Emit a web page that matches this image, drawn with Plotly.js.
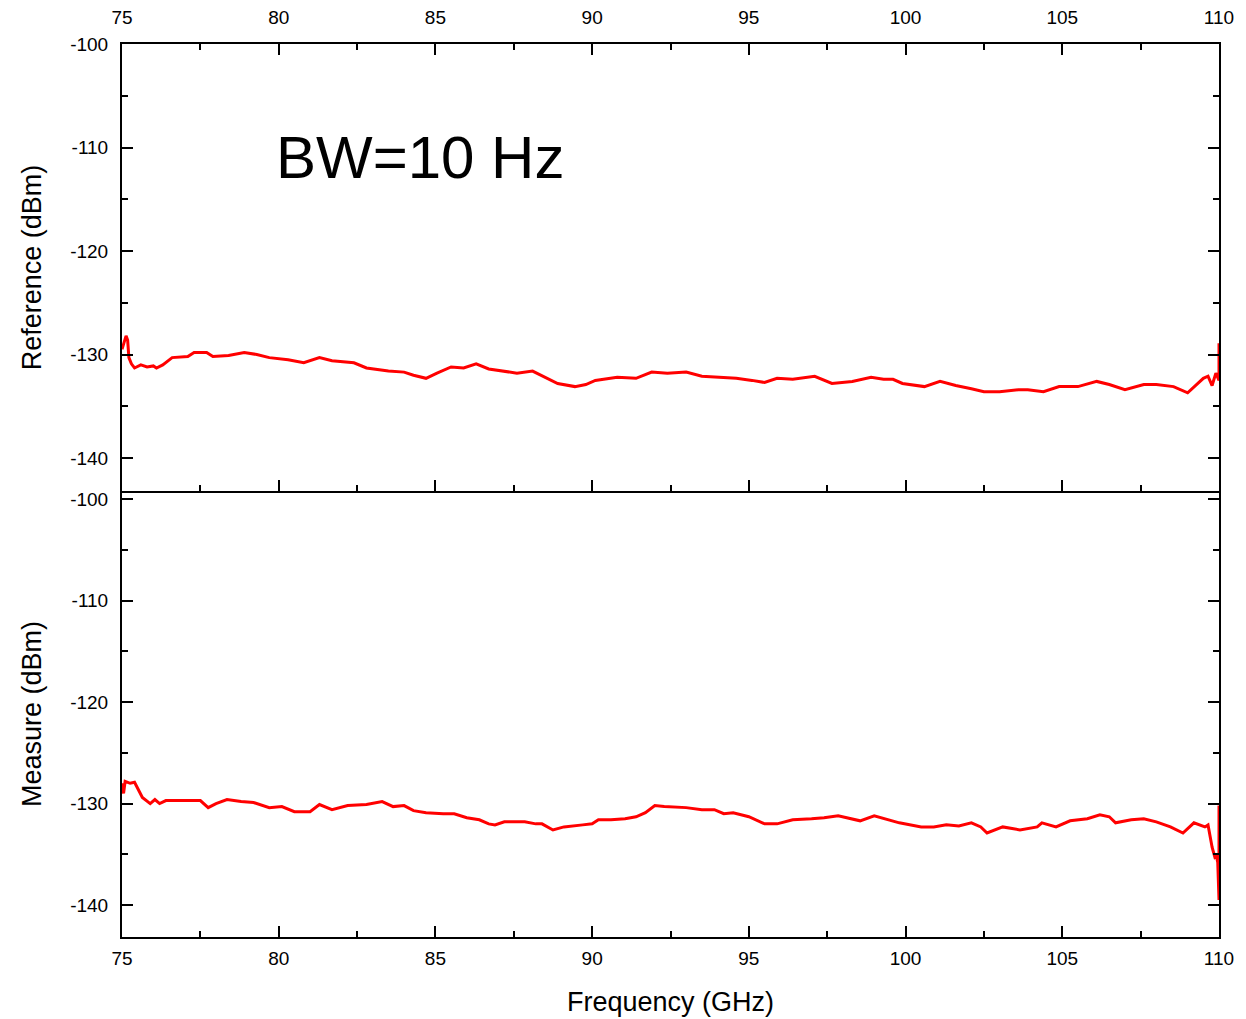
<!DOCTYPE html>
<html>
<head>
<meta charset="utf-8">
<script src="https://cdn.plot.ly/plotly-3.0.1.min.js"></script>
<style>html,body{margin:0;padding:0;background:#fff;}#chart{width:1246px;height:1019px;}</style>
</head>
<body>
<div id="chart"></div>
<script>
// Reference trace (top panel)
const refFreq = [75.0, 75.06, 75.13, 75.18, 75.22, 75.3, 75.4, 75.6, 75.8, 76.0, 76.1, 76.3, 76.6, 77.1, 77.3, 77.7, 77.9, 78.4, 78.9, 79.3, 79.7, 80.3, 80.8, 81.3, 81.7, 82.4, 82.8, 83.5, 84.0, 84.3, 84.7, 85.05, 85.5, 85.9, 86.3, 86.7, 87.1, 87.6, 88.1, 88.5, 88.9, 89.45, 89.8, 90.1, 90.8, 91.4, 91.9, 92.4, 93.0, 93.5, 94.0, 94.6, 95.1, 95.5, 95.9, 96.4, 97.1, 97.65, 98.3, 98.9, 99.3, 99.6, 99.9, 100.6, 101.1, 101.6, 102.1, 102.5, 103.0, 103.6, 103.9, 104.4, 104.9, 105.5, 106.1, 106.5, 107.0, 107.6, 108.0, 108.55, 109.0, 109.2, 109.5, 109.65, 109.78, 109.9, 109.97, 110.0, 110.0];
const refDbm = [-129.5, -128.9, -128.2, -128.6, -130.3, -130.9, -131.3, -131.0, -131.2, -131.1, -131.3, -131.0, -130.3, -130.2, -129.8, -129.8, -130.2, -130.1, -129.8, -130.0, -130.3, -130.5, -130.8, -130.3, -130.6, -130.8, -131.3, -131.6, -131.7, -132.0, -132.3, -131.8, -131.2, -131.3, -130.9, -131.4, -131.6, -131.8, -131.6, -132.2, -132.8, -133.1, -132.9, -132.5, -132.2, -132.3, -131.7, -131.8, -131.7, -132.1, -132.2, -132.3, -132.5, -132.7, -132.3, -132.4, -132.1, -132.8, -132.6, -132.2, -132.4, -132.4, -132.8, -133.1, -132.6, -133.0, -133.3, -133.6, -133.6, -133.4, -133.4, -133.6, -133.1, -133.1, -132.6, -132.9, -133.4, -132.9, -132.9, -133.1, -133.7, -133.1, -132.3, -132.1, -133.0, -131.8, -132.3, -132.5, -128.9];

// Measure trace (bottom panel)
const measFreq = [75.0, 75.05, 75.1, 75.26, 75.4, 75.5, 75.65, 75.9, 76.05, 76.2, 76.4, 77.1, 77.5, 77.75, 78.0, 78.35, 78.8, 79.2, 79.7, 80.1, 80.5, 81.0, 81.3, 81.7, 82.2, 82.8, 83.3, 83.65, 84.0, 84.3, 84.7, 85.25, 85.6, 86.0, 86.4, 86.7, 86.9, 87.2, 87.85, 88.2, 88.4, 88.75, 89.1, 89.7, 90.0, 90.2, 90.6, 91.05, 91.4, 91.7, 92.0, 92.3, 93.0, 93.5, 93.9, 94.2, 94.5, 95.0, 95.5, 95.9, 96.4, 97.0, 97.4, 97.85, 98.3, 98.55, 99.0, 99.5, 99.8, 100.5, 100.9, 101.3, 101.7, 102.1, 102.4, 102.6, 103.1, 103.65, 104.2, 104.35, 104.8, 105.25, 105.8, 106.2, 106.5, 106.7, 107.2, 107.6, 108.0, 108.45, 108.85, 109.2, 109.55, 109.65, 109.78, 109.87, 109.92, 109.96, 110.0, 110.0];
const measDbm = [-128.0, -129.0, -127.8, -128.0, -127.9, -128.5, -129.4, -130.0, -129.6, -130.0, -129.7, -129.7, -129.7, -130.4, -130.0, -129.6, -129.8, -129.9, -130.4, -130.3, -130.8, -130.8, -130.1, -130.6, -130.2, -130.1, -129.8, -130.3, -130.2, -130.7, -130.9, -131.0, -131.0, -131.4, -131.6, -132.0, -132.1, -131.8, -131.8, -132.0, -132.0, -132.6, -132.3, -132.1, -132.0, -131.6, -131.6, -131.5, -131.3, -130.9, -130.2, -130.3, -130.4, -130.6, -130.6, -131.0, -130.9, -131.3, -132.0, -132.0, -131.6, -131.5, -131.4, -131.2, -131.5, -131.7, -131.2, -131.6, -131.9, -132.3, -132.3, -132.1, -132.2, -131.9, -132.3, -132.9, -132.3, -132.6, -132.3, -131.9, -132.3, -131.7, -131.5, -131.1, -131.3, -131.9, -131.6, -131.5, -131.8, -132.3, -132.9, -131.9, -132.3, -132.1, -134.3, -135.3, -135.2, -135.8, -139.5, -130.2];

const xTickVals = [75, 80, 85, 90, 95, 100, 105, 110];
const xTickText = ['75', '80', '85', '90', '95', '100', '105', '110'];
const yTickVals = [-100, -110, -120, -130, -140];
const yTickText = ['-100', '-110', '-120', '-130', '-140'];
const annotationText = 'BW=10 Hz';
const xTitle = 'Frequency (GHz)';
const yTitleTop = 'Reference (dBm)';
const yTitleBottom = 'Measure (dBm)';

const FONT = 'Liberation Sans, Arial, sans-serif';
const lineStyle = {color: 'rgb(255,0,0)', width: 3};

const traces = [
  {x: refFreq, y: refDbm, xaxis: 'x2', yaxis: 'y2', type: 'scatter', mode: 'lines', line: lineStyle, showlegend: false, hoverinfo: 'skip'},
  {x: measFreq, y: measDbm, xaxis: 'x', yaxis: 'y', type: 'scatter', mode: 'lines', line: lineStyle, showlegend: false, hoverinfo: 'skip'}
];

const axBase = {
  showgrid: false, zeroline: false, showline: true, linecolor: '#000', linewidth: 2,
  ticks: 'inside', ticklen: 11, tickwidth: 2, tickcolor: '#000',
  tickfont: {family: FONT, size: 19, color: '#000'}
};
const titleFont = {family: FONT, size: 27, color: '#000'};

const layout = {
  width: 1246, height: 1019,
  margin: {l: 122, r: 27, t: 44, b: 82},
  paper_bgcolor: '#fff', plot_bgcolor: '#fff',
  font: {family: FONT, color: '#000'},
  showlegend: false,
  xaxis: Object.assign({}, axBase, {
    domain: [0, 1], anchor: 'y', range: [75, 110], tickmode: 'array', tickvals: xTickVals, ticktext: xTickText,
    mirror: false, ticklabelstandoff: 3,
    minor: {dtick: 2.5, tick0: 75, ticks: 'inside', ticklen: 6, tickwidth: 2, tickcolor: '#000'},
    title: {text: xTitle, font: titleFont, standoff: 24}
  }),
  xaxis2: Object.assign({}, axBase, {
    domain: [0, 1], anchor: 'y2', side: 'top', range: [75, 110], tickmode: 'array', tickvals: xTickVals, ticktext: xTickText,
    mirror: 'ticks', ticklabelstandoff: 10,
    minor: {dtick: 2.5, tick0: 75, ticks: 'inside', ticklen: 6, tickwidth: 2, tickcolor: '#000'}
  }),
  yaxis: Object.assign({}, axBase, {
    domain: [0, 0.4994], anchor: 'x', range: [-143.15, -99.2], tickmode: 'array', tickvals: yTickVals, ticktext: yTickText,
    mirror: 'ticks', ticklabelstandoff: 8,
    minor: {dtick: 5, tick0: -100, ticks: 'inside', ticklen: 6, tickwidth: 2, tickcolor: '#000'},
    title: {text: yTitleBottom, font: titleFont, standoff: 21}
  }),
  yaxis2: Object.assign({}, axBase, {
    domain: [0.4994, 1], anchor: 'x2', range: [-143.19, -100], tickmode: 'array', tickvals: yTickVals, ticktext: yTickText,
    mirror: 'ticks', ticklabelstandoff: 8,
    minor: {dtick: 5, tick0: -100, ticks: 'inside', ticklen: 6, tickwidth: 2, tickcolor: '#000'},
    title: {text: yTitleTop, font: titleFont, standoff: 21}
  }),
  annotations: [{
    text: annotationText, xref: 'x2', yref: 'y2', x: 79.85, y: -111,
    xanchor: 'left', yanchor: 'middle', showarrow: false,
    font: {family: FONT, size: 60, color: '#000'}
  }]
};

Plotly.newPlot('chart', traces, layout, {displayModeBar: false, staticPlot: true});
</script>
</body>
</html>
